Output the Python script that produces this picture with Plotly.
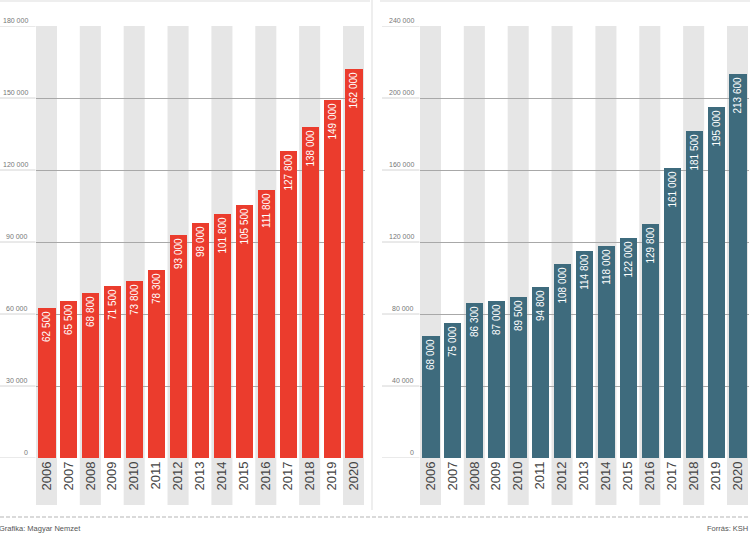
import plotly.graph_objects as go

years = list(range(2006, 2021))
year_labels = [str(y) for y in years]
left_values = [62500, 65500, 68800, 71500, 73800, 78300, 93000, 98000, 101800,
               105500, 111800, 127800, 138000, 149000, 162000]
right_values = [68000, 75000, 86300, 87000, 89500, 94800, 108000, 114800, 118000,
                122000, 129800, 161000, 181500, 195000, 213600]
left_ticks = [0, 30000, 60000, 90000, 120000, 150000, 180000]
right_ticks = [0, 40000, 80000, 120000, 160000, 200000, 240000]
band_years = [2006, 2008, 2010, 2012, 2014, 2016, 2018, 2020]
source_left = "Grafika: Magyar Nemzet"
source_right = "Forrás: KSH"

RED = "#EB3C2D"
TEAL = "#3E6B7D"
BAND = "#e6e6e6"
GRID = "#a8a8a8"
GRID_EXT = "#d4d4d4"
FONT = "Liberation Sans, Arial, sans-serif"

W, H = 750, 536
TOP, BOT = 26, 78
PH = H - TOP - BOT


def fmt(v):
    return f"{v:,}".replace(",", " ")


def py(p):
    # pixel row -> paper y
    return (H - BOT - p) / PH


L_DOM = [35.5 / W, 364.5 / W]
R_DOM = [419.5 / W, 748.5 / W]

fig = go.Figure()

panels = [
    (left_values, left_ticks, RED, "x", "y", L_DOM, 30 / W, 0.0),
    (right_values, right_ticks, TEAL, "x2", "y2", R_DOM, 416 / W, 382 / W),
]

shapes = []
annotations = []

for vals, ticks, color, xa, ya, dom, lab_x, ext_x0 in panels:
    fig.add_trace(go.Bar(
        x=years, y=vals, xaxis=xa, yaxis=ya, width=0.78,
        marker=dict(color=color, line=dict(width=0)),
        text=[fmt(v) for v in vals], textposition="inside",
        insidetextanchor="end", textangle=-90,
        textfont=dict(color="white", size=10, family=FONT),
        hoverinfo="skip", showlegend=False,
    ))
    for yr in band_years:
        shapes.append(dict(type="rect", xref=xa, yref="paper",
                           x0=yr - 0.48, x1=yr + 0.48, y0=py(505), y1=1,
                           fillcolor=BAND, line=dict(width=0), layer="below"))
    for t in ticks:
        shapes.append(dict(type="line", xref="paper", yref=ya,
                           x0=ext_x0, x1=dom[0], y0=t, y1=t,
                           line=dict(color=GRID_EXT, width=1), layer="below"))
        annotations.append(dict(xref="paper", yref=ya, x=lab_x, y=t,
                                xanchor="right", yanchor="bottom", yshift=0,
                                text=fmt(t), showarrow=False,
                                font=dict(size=7, color="#777", family=FONT)))

# decorative frame elements
shapes.append(dict(type="line", xref="paper", yref="paper", x0=372 / W, x1=372 / W,
                   y0=py(0), y1=py(510), line=dict(color="#dddddd", width=1)))
shapes.append(dict(type="line", xref="paper", yref="paper", x0=0, x1=370 / W,
                   y0=py(1), y1=py(1), line=dict(color="#dddddd", width=1)))
shapes.append(dict(type="line", xref="paper", yref="paper", x0=380 / W, x1=1,
                   y0=py(1), y1=py(1), line=dict(color="#dddddd", width=1)))
shapes.append(dict(type="line", xref="paper", yref="paper", x0=0, x1=1,
                   y0=py(517), y1=py(517),
                   line=dict(color="#b5b5b5", width=1, dash="4px,2px")))

annotations.append(dict(xref="paper", yref="paper", x=-0.004, y=py(528),
                        xanchor="left", yanchor="middle", text=source_left,
                        showarrow=False, font=dict(size=7.5, color="#555", family=FONT)))
annotations.append(dict(xref="paper", yref="paper", x=1.0, y=py(528),
                        xanchor="right", yanchor="middle", text=source_right,
                        showarrow=False, font=dict(size=7.5, color="#555", family=FONT)))

xcommon = dict(range=[2005.5, 2020.5], tickvals=years, ticktext=year_labels,
               tickangle=-90, tickfont=dict(size=13, color="#444", family=FONT),
               showgrid=False, zeroline=False, showline=False, ticks="",
               fixedrange=True)
ycommon = dict(showticklabels=False, showgrid=True, gridcolor=GRID, gridwidth=1,
               zeroline=False, showline=False, ticks="", fixedrange=True)

fig.update_layout(
    width=W, height=H, autosize=False,
    margin=dict(l=0, r=0, t=TOP, b=BOT, pad=0),
    paper_bgcolor="white", plot_bgcolor="rgba(0,0,0,0)",
    xaxis=dict(domain=L_DOM, anchor="y", **xcommon),
    xaxis2=dict(domain=R_DOM, anchor="y2", **xcommon),
    yaxis=dict(domain=[0, 1], anchor="x", range=[0, 180000], tickvals=left_ticks, **ycommon),
    yaxis2=dict(domain=[0, 1], anchor="x2", range=[0, 240000], tickvals=right_ticks, **ycommon),
    shapes=shapes, annotations=annotations,
    bargap=0, font=dict(family=FONT),
    uniformtext=dict(minsize=10, mode="show"),
)

fig.write_html("out.html", config={"displayModeBar": False},
               post_script="document.body.style.margin='0';document.body.style.overflow='hidden';")
